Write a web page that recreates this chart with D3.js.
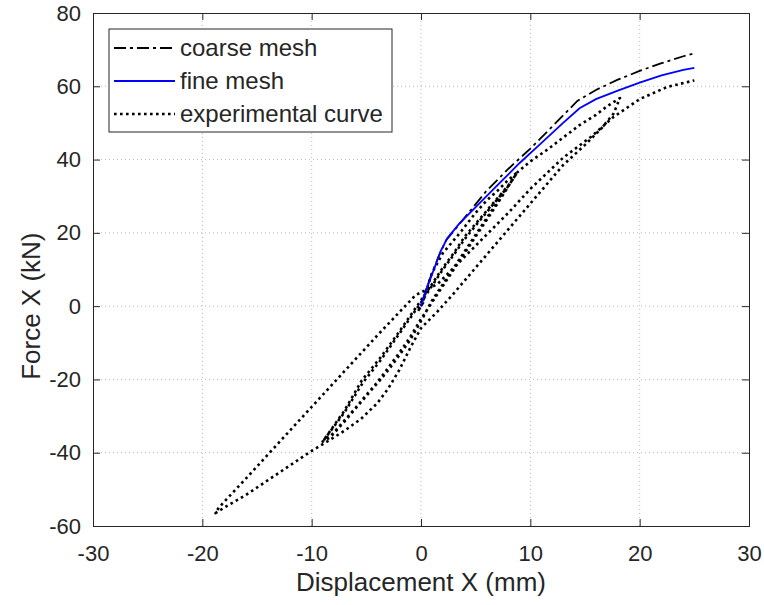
<!DOCTYPE html>
<html>
<head>
<meta charset="utf-8">
<script src="https://d3js.org/d3.v7.min.js"></script>
<style>
  html, body { margin: 0; padding: 0; background: #fff; }
  svg { display: block; }
  text { font-family: "Liberation Sans", Arial, Helvetica, sans-serif; fill: #262626; }
</style>
</head>
<body>
<svg id="chart" width="764" height="605"></svg>
<script>
// ---------- data ----------
const xTicks = [-30, -20, -10, 0, 10, 20, 30];
const yTicks = [-60, -40, -20, 0, 20, 40, 60, 80];
const seriesNames = ["coarse mesh", "fine mesh", "experimental curve"];

const coarseX = [0, 0.4, 1.0, 1.6, 2.3, 3.0, 4.5, 6.0, 8.0, 10.0, 12.0, 14.3, 16.0, 18.0, 20.0, 22.0, 24.0, 25.0];
const coarseY = [0, 4.0, 9.0, 13.5, 18.0, 20.5, 26.0, 31.5, 37.5, 43.0, 49.0, 56.0, 59.0, 61.8, 64.2, 66.3, 68.2, 69.0];

const fineX = [0, 0.3, 0.8, 1.3, 1.8, 2.4, 3.5, 5.0, 7.0, 9.0, 11.0, 13.0, 14.5, 16.0, 18.0, 20.0, 22.0, 24.0, 25.0];
const fineY = [0, 3.0, 7.0, 11.0, 15.0, 18.5, 22.5, 27.0, 33.0, 39.0, 44.5, 50.0, 54.0, 56.5, 58.8, 61.0, 63.0, 64.5, 65.0];

const expX = [
  // small cycles near origin
  0, 0.4, 0.1, -0.3, 0.2,
  // cycle 1 loading
  0.4, 1, 2, 3, 3.7, 5, 6, 7, 8, 8.8,
  // cycle 1 unloading
  7, 5, 3, 1, 0.2, -1, -2, -3, -3.75, -5, -6, -7, -8.3, -9,
  // cycle 1 reloading
  -7, -5.4, -3.75, -2, 0, 1, 2, 3, 4, 5, 6, 7, 8, 8.8,
  // cycle 1 repeat unloading
  7, 5, 3, 1, 0, -1, -2, -3, -4, -5, -6, -7, -8.2, -8.9,
  // cycle 1 repeat reloading
  -7, -5.3, -3.7, -2, 0, 1, 2, 3, 4, 5, 6, 7, 8, 8.8,
  // cycle 2 loading
  10, 11.5, 13, 14.5, 16, 17, 18.2,
  // cycle 2 unloading
  17.6, 16.5, 15, 13, 11, 9, 7, 5, 3, 1.5, 0, -1, -2, -3, -4, -5.5, -7, -8.6, -10, -12, -14, -16, -18, -18.8,
  // cycle 2 reloading
  -18.5, -16, -12, -8, -4, -0.5,
  // final monotonic loading
  1.5, 4, 6, 8, 10, 13, 15.5, 17.6, 20, 22.5, 25
];
const expY = [
  0, 3.5, 0.5, -1.5, 1,
  3.5, 9, 14.5, 18, 20.5, 25.5, 28.8, 31.5, 34.5, 36.5,
  28.5, 19.5, 10.5, 1.5, -3, -9.3, -13.5, -17.5, -20.2, -24.5, -28, -31.5, -35.8, -37,
  -28.5, -20.2, -14.2, -7, 1.6, 6, 10.5, 14.5, 19, 22.5, 26, 29.5, 33, 36.5,
  28, 19, 10, 1, -3.5, -8.5, -12.8, -16.8, -20.8, -24.2, -27.8, -31.2, -35.2, -36.6,
  -29, -20.8, -14.8, -7.6, 1, 5.5, 10, 14, 18.3, 22, 25.6, 29.2, 32.8, 36.5,
  39.5, 42.6, 46, 49.4, 52.2, 54.5, 56.8,
  52.5, 48.5, 44, 38.5, 31.5, 24.5, 17.5, 10.5, 3.5, -1.5, -6, -11.5, -17.5, -22.5, -26.5, -30.8, -34, -37, -39.5, -43.5, -47.5, -51.5, -55, -56.5,
  -55, -47, -34, -21, -8, 3,
  6, 13.5, 19.5, 25.5, 32, 40.5, 46.1, 51.6, 56.5, 59.8, 61.6
];

// ---------- layout ----------
const svg = d3.select("#chart");
const W = 764, H = 605;
const x = d3.scaleLinear().domain([-30, 30]).range([93, 749]);
const y = d3.scaleLinear().domain([-60, 80]).range([526, 13]);

const axisColor = "#262626";
const gridColor = "#b8b8b8";
const font = "'Liberation Sans', Arial, Helvetica, sans-serif";

svg.append("rect").attr("x", 0).attr("y", 0).attr("width", W).attr("height", H).attr("fill", "#fff");

// grid
const grid = svg.append("g");
grid.selectAll("line.gx").data(xTicks.slice(1, -1)).join("line")
  .attr("x1", d => x(d)).attr("x2", d => x(d))
  .attr("y1", y(80)).attr("y2", y(-60))
  .attr("stroke", gridColor).attr("stroke-width", 1)
  .attr("stroke-dasharray", "1,3");
grid.selectAll("line.gy").data(yTicks.slice(1, -1)).join("line")
  .attr("y1", d => y(d)).attr("y2", d => y(d))
  .attr("x1", x(-30)).attr("x2", x(30))
  .attr("stroke", gridColor).attr("stroke-width", 1)
  .attr("stroke-dasharray", "1,3");

// clip
svg.append("clipPath").attr("id", "clip").append("rect")
  .attr("x", x(-30)).attr("y", y(80))
  .attr("width", x(30) - x(-30)).attr("height", y(-60) - y(80));

const line = d3.line().x(d => x(d[0])).y(d => y(d[1]));
const plot = svg.append("g").attr("clip-path", "url(#clip)");
const zip = (a, b) => a.map((v, i) => [v, b[i]]);

plot.append("path").datum(zip(expX, expY))
  .attr("d", line).attr("fill", "none")
  .attr("stroke", "#000").attr("stroke-width", 2.6)
  .attr("stroke-dasharray", "2.6,3.4")
  .attr("stroke-linejoin", "round");

plot.append("path").datum(zip(coarseX, coarseY))
  .attr("d", line).attr("fill", "none")
  .attr("stroke", "#000").attr("stroke-width", 1.8)
  .attr("stroke-dasharray", "12,4,3,4");

plot.append("path").datum(zip(fineX, fineY))
  .attr("d", line).attr("fill", "none")
  .attr("stroke", "#0000ff").attr("stroke-width", 1.8);

// axes
const tickLen = 7;
const fmt = d => String(d);
const xAxisB = d3.axisBottom(x).tickValues(xTicks).tickSize(-tickLen).tickPadding(tickLen + 12).tickFormat(fmt);
const xAxisT = d3.axisTop(x).tickValues(xTicks).tickSize(-tickLen).tickFormat("");
const yAxisL = d3.axisLeft(y).tickValues(yTicks).tickSize(-tickLen).tickPadding(tickLen + 5).tickFormat(fmt);
const yAxisR = d3.axisRight(y).tickValues(yTicks).tickSize(-tickLen).tickFormat("");

function styleAxis(g) {
  g.select(".domain").attr("stroke", axisColor).attr("stroke-width", 1);
  g.selectAll(".tick line").attr("stroke", axisColor).attr("stroke-width", 1);
  g.selectAll(".tick text").attr("fill", axisColor).style("font-size", "22px")
    .style("font-family", font);
}

svg.append("g").attr("transform", `translate(0,${y(-60)})`).call(xAxisB).call(styleAxis);
svg.append("g").attr("transform", `translate(0,${y(80)})`).call(xAxisT).call(styleAxis);
svg.append("g").attr("transform", `translate(${x(-30)},0)`).call(yAxisL).call(styleAxis);
svg.append("g").attr("transform", `translate(${x(30)},0)`).call(yAxisR).call(styleAxis);

// axis labels
svg.append("text")
  .attr("x", (x(-30) + x(30)) / 2).attr("y", 591)
  .attr("text-anchor", "middle").style("font-size", "26px")
  .text("Displacement X (mm)");
svg.append("text")
  .attr("transform", `translate(40,${y(0)}) rotate(-90)`)
  .attr("text-anchor", "middle").style("font-size", "26px")
  .text("Force X (kN)");

// legend
const lg = svg.append("g");
lg.append("rect").attr("x", 109).attr("y", 29).attr("width", 283).attr("height", 103)
  .attr("fill", "#fff").attr("stroke", axisColor).attr("stroke-width", 1);
const lgStyles = [
  { stroke: "#000", width: 1.8, dash: "12,4,3,4" },
  { stroke: "#0000ff", width: 1.8, dash: null },
  { stroke: "#000", width: 2.6, dash: "2.6,3.4" }
];
seriesNames.forEach((name, i) => {
  const cy = 48 + i * 33;
  lg.append("line").attr("x1", 114).attr("x2", 175).attr("y1", cy).attr("y2", cy)
    .attr("stroke", lgStyles[i].stroke).attr("stroke-width", lgStyles[i].width)
    .attr("stroke-dasharray", lgStyles[i].dash);
  lg.append("text").attr("x", 180).attr("y", cy + 8).style("font-size", "24px").text(name);
});
</script>
</body>
</html>
